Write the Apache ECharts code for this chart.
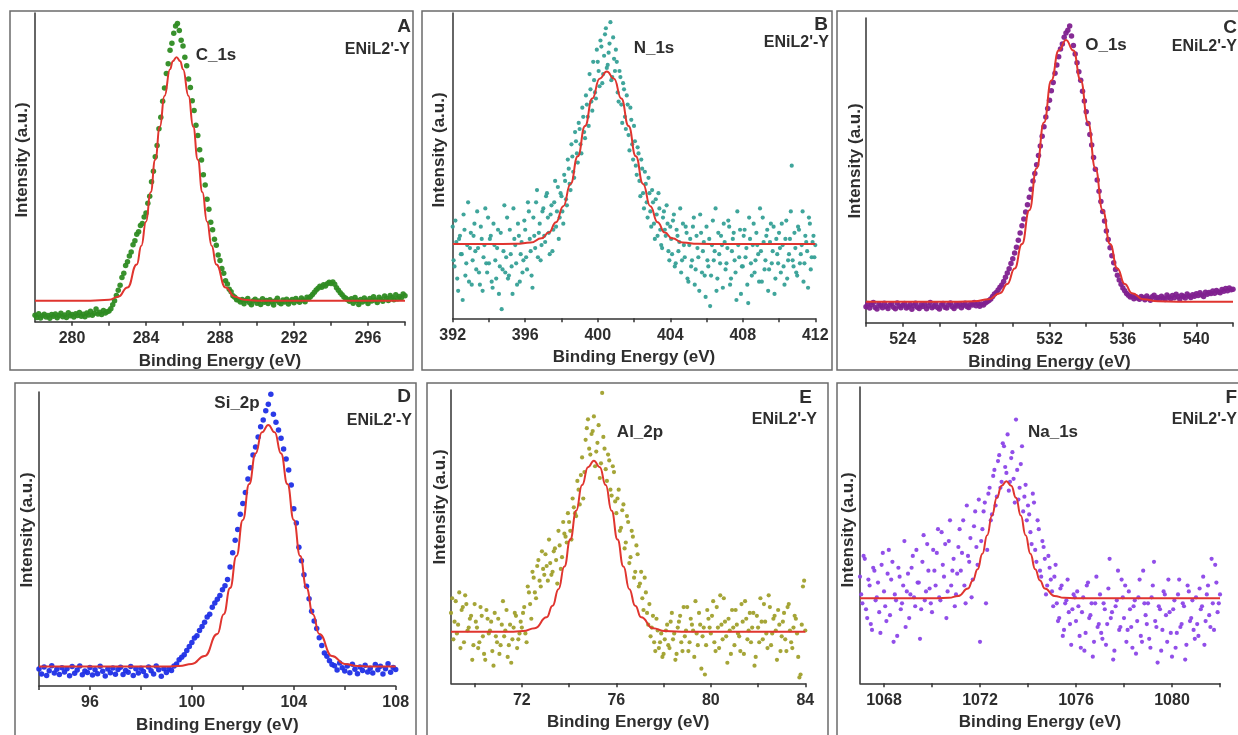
<!DOCTYPE html>
<html>
<head>
<meta charset="utf-8">
<script src="https://cdn.jsdelivr.net/npm/echarts@6/dist/echarts.min.js"></script>
<style>
html, body { margin: 0; padding: 0; background: #fff; }
#chart { width: 1238px; height: 735px; }
</style>
</head>
<body>
<div id="chart"></div>
<script>
// every scan is sampled on a 0.1 eV grid, starting at the first energy below;
// the noisy scans have a second pass offset by half a step
var scanStep = 0.1;
var passOffset = 0.05;

var c1sStart = 278;
var c1sY = [
    2.1, 1.4, 2.6, 1.2, 1.9, 2.4, 1.5, 2.0, 1.1, 2.3,
    1.8, 2.5, 1.3, 2.0, 2.7, 1.6, 2.2, 1.4, 2.9, 1.9,
    2.3, 1.5, 2.6, 2.0, 3.0, 1.8, 2.4, 1.6, 2.8, 2.2,
    3.4, 2.1, 2.7, 4.1, 2.5, 3.1, 2.3, 3.6, 2.8, 3.2,
    3.5, 4.2, 5.5, 6.8, 8.5, 10.2, 11.8, 14.3, 15.7, 18.2,
    19.4, 21.3, 22.6, 24.9, 26.2, 28.3, 29.1, 31.2, 31.8, 33.9,
    35.2, 38.4, 40.6, 45.3, 48.7, 53.4, 57.1, 62.5, 66.2, 71.4,
    75.7, 80.4, 83.6, 87.9, 90.2, 93.4, 95.8, 96.6, 94.3, 91.2,
    89.3, 85.7, 82.9, 78.6, 75.9, 71.6, 68.4, 63.6, 60.3, 55.7,
    52.4, 47.6, 44.3, 39.7, 36.4, 32.2, 29.8, 26.7, 24.8, 21.6,
    19.8, 17.2, 15.7, 13.3, 12.2, 10.5, 9.7, 8.4, 7.9, 7.1,
    7.0, 6.4, 7.2, 5.8, 6.9, 7.5, 6.1, 5.5, 6.8, 7.3,
    6.0, 6.7, 5.6, 7.4, 6.3, 6.9, 5.9, 7.1, 6.5, 5.4,
    6.8, 7.6, 6.2, 5.8, 7.0, 6.4, 7.3, 5.7, 6.6, 7.2,
    6.1, 7.5, 6.8, 6.3, 7.7, 7.0, 6.5, 7.9, 7.4, 8.2,
    8.8, 9.5, 10.3, 10.8, 11.5, 11.2, 12.0, 11.6, 12.3, 12.8,
    12.4, 12.9, 12.1, 11.0, 10.2, 9.4, 8.7, 8.0, 7.6, 7.1,
    6.6, 7.4, 6.0, 7.8, 6.9, 5.6, 7.2, 6.4, 7.7, 6.8,
    5.9, 7.5, 6.7, 8.1, 7.0, 6.2, 7.9, 7.3, 6.6, 8.3,
    7.6, 6.9, 8.5, 7.8, 7.1, 8.7, 7.4, 8.2, 7.7, 9.0,
    8.4
];
var c1sFit = [
    [278, 6.8], [280, 6.8], [281, 6.8], [282, 7.1], [282.5, 8.1], [283, 11.1], [283.5, 18.5],
    [283.75, 24.6], [284, 32.4], [284.25, 41.9], [284.5, 52.5], [284.75, 63.2], [285, 73.1],
    [285.3, 81.8], [285.45, 84.4], [285.65, 85.7], [285.85, 84.4], [286, 81.8], [286.3, 73.1],
    [286.55, 63.2], [286.8, 52.5], [287.05, 41.9], [287.3, 32.4], [287.55, 24.6], [287.8, 18.5],
    [288.3, 11.1], [288.8, 8.1], [289.3, 7.1], [290, 6.8], [292, 6.8], [295, 6.8], [298, 6.8]
];
var c1sLabels = [280, 284, 288, 292, 296];
var c1sTicks = [280, 282, 284, 286, 288, 290, 292, 294, 296, 298];

var n1sStart = 392;
var n1sY = [
    30, 17, 25, 9, 27, 21, 34, 14, 24, 12,
    28, 19, 31, 16, 23, 11, 26, 20, 36, 15,
    18, 27, 10, 24, 13, 29, 17, 3, 22, 15,
    33, 14, 21, 8, 26, 18, 31, 12, 25, 19,
    29, 16, 35, 22, 10, 27, 38, 20, 31, 24,
    36, 25, 41, 28, 34, 22, 38, 30, 43, 33,
    40, 31, 45, 37, 49, 42, 53, 46, 58, 51,
    62, 54, 66, 59, 70, 63, 75, 68, 78, 72,
    84, 76, 89, 80, 93, 82, 87, 97, 79, 85,
    88, 74, 81, 70, 77, 66, 73, 60, 69, 57,
    63, 50, 56, 45, 52, 41, 48, 38, 46, 35,
    42, 31, 39, 27, 36, 24, 33, 29, 37, 22,
    30, 21, 34, 18, 27, 25, 15, 31, 20, 28,
    12, 26, 19, 33, 16, 23, 9, 28, 22, 14,
    30, 17, 4, 24, 19, 36, 13, 21, 27, 10,
    25, 18, 32, 11, 22, 28, 15, 35, 20, 8,
    17, 29, 23, 5, 26, 14, 31, 19, 24, 12,
    22, 33, 16, 27, 9, 25, 18, 30, 13, 21,
    28, 15, 24, 11, 32, 19, 26, 50, 17, 23,
    14, 29, 21, 35, 18, 25, 10, 31, 20, 27,
    24
];
var n1sY2 = [
    19, 32, 13, 26, 21, 6, 29, 18, 38, 23,
    11, 27, 22, 35, 15, 30, 9, 24, 18, 33,
    26, 12, 31, 19, 23, 8, 28, 16, 37, 20,
    13, 29, 17, 36, 24, 11, 27, 21, 15, 32,
    20, 38, 26, 14, 33, 23, 42, 28, 19, 35,
    27, 40, 33, 21, 37, 29, 45, 35, 26, 41,
    35, 47, 39, 52, 44, 57, 48, 61, 54, 64,
    57, 69, 61, 73, 66, 80, 71, 84, 74, 88,
    81, 91, 77, 86, 95, 83, 90, 78, 92, 81,
    84, 71, 79, 64, 75, 62, 70, 55, 65, 52,
    58, 47, 54, 40, 49, 36, 44, 33, 41, 30,
    38, 26, 34, 41, 29, 23, 35, 27, 31, 19,
    26, 32, 17, 29, 22, 36, 19, 24, 30, 13,
    24, 17, 30, 11, 27, 20, 34, 15, 25, 7,
    19, 26, 14, 32, 22, 9, 28, 18, 24, 31,
    16, 23, 30, 13, 26, 19, 6, 24, 29, 17,
    27, 20, 11, 33, 18, 24, 15, 28, 21, 36,
    12, 25, 19, 29, 16, 31, 22, 8, 26, 18,
    23, 31, 17, 26, 13, 21, 35, 19, 28, 15,
    30, 18, 24, 12, 27, 22, 33, 16, 25, 20
];
var n1sFit = [
    [392, 24.3], [394, 24.3], [395.5, 24.4], [396.3, 24.8], [396.9, 26.2], [397.3, 28.1],
    [397.7, 31.5], [398.1, 36.7], [398.5, 44.0], [398.9, 53.1], [399.3, 63.0], [399.7, 72.0],
    [400.1, 78.5], [400.5, 80.8], [400.9, 78.5], [401.3, 72.0], [401.7, 63.0], [402.1, 53.1],
    [402.5, 44.0], [402.9, 36.7], [403.3, 31.5], [403.7, 28.1], [404.1, 26.2], [404.7, 24.8],
    [405.5, 24.4], [407, 24.3], [409, 24.3], [412, 24.3]
];
var n1sLabels = [392, 396, 400, 404, 408, 412];
var n1sTicks = [392, 394, 396, 398, 400, 402, 404, 406, 408, 410, 412];

var o1sStart = 522;
var o1sY = [
    5.2, 6.3, 4.8, 5.9, 6.6, 5.0, 4.5, 6.1, 5.6, 4.9,
    6.4, 5.3, 4.7, 5.8, 6.2, 5.1, 4.6, 6.5, 5.5, 4.9,
    5.7, 6.3, 4.8, 5.2, 6.0, 4.4, 5.6, 6.4, 5.1, 4.7,
    5.9, 5.3, 6.1, 4.6, 5.5, 6.6, 4.9, 5.4, 6.2, 5.0,
    4.5, 5.8, 6.3, 5.1, 4.8, 5.9, 6.5, 5.2, 4.7, 6.0,
    5.5, 6.2, 4.9, 5.7, 6.4, 5.3, 5.0, 6.1, 5.8, 6.6,
    5.6, 6.3, 5.4, 6.1, 5.8, 6.5, 6.9, 7.3, 7.8, 8.6,
    9.4, 9.9, 10.7, 11.6, 12.4, 13.5, 14.9, 16.3, 17.7, 19.4,
    21.0, 22.9, 24.8, 27.1, 29.4, 31.8, 34.0, 36.3, 38.7, 41.2,
    43.8, 46.5, 49.0, 51.8, 54.9, 58.0, 61.2, 64.3, 67.5, 70.3,
    73.0, 76.1, 78.8, 81.9, 84.6, 87.3, 89.8, 91.5, 93.7, 95.1,
    96.0, 97.4, 94.1, 91.0, 88.2, 85.3, 82.4, 79.6, 76.0, 72.8,
    69.2, 65.4, 61.8, 58.3, 54.2, 50.4, 46.8, 43.1, 39.8, 36.5,
    33.4, 30.1, 27.3, 24.6, 22.0, 19.7, 17.5, 15.6, 14.0, 12.6,
    11.4, 10.5, 9.6, 9.0, 8.4, 8.8, 7.9, 8.5, 8.1, 7.7,
    8.6, 8.2, 7.5, 8.8, 8.0, 7.4, 8.5, 9.0, 7.9, 8.3,
    7.8, 8.7, 8.1, 7.6, 9.1, 8.4, 7.9, 8.9, 8.2, 9.3,
    8.5, 7.8, 9.0, 8.6, 8.1, 9.4, 8.8, 8.3, 9.2, 8.7,
    9.5, 8.9, 9.8, 9.1, 8.6, 10.0, 9.3, 9.9, 9.6, 10.4,
    9.7, 10.6, 10.1, 9.8, 10.9, 10.3, 11.2, 10.5, 11.4, 10.8,
    11.0
];
var o1sFit = [
    [522, 6.9], [525, 6.9], [527, 6.9], [527.9, 7.0], [528.7, 7.7], [529.3, 9.7], [529.7, 12.7],
    [530.1, 17.8], [530.5, 25.8], [530.9, 36.9], [531.3, 50.7], [531.7, 65.7], [532.1, 79.5],
    [532.5, 89.3], [532.9, 92.8], [533.3, 89.3], [533.7, 79.5], [534.1, 65.7], [534.5, 50.7],
    [534.9, 36.9], [535.3, 25.8], [535.7, 17.8], [536.1, 12.7], [536.5, 9.7], [537.1, 7.7],
    [537.9, 7.0], [539, 6.9], [542, 6.9]
];
var o1sLabels = [524, 528, 532, 536, 540];
var o1sTicks = [522, 524, 526, 528, 530, 532, 534, 536, 538, 540, 542];

var si2pStart = 94;
var si2pY = [
    5.8, 4.1, 6.5, 3.6, 5.2, 6.9, 4.4, 5.7, 3.9, 6.2,
    4.8, 5.9, 3.5, 6.6, 4.3, 5.4, 6.8, 3.8, 5.1, 4.6,
    6.3, 3.7, 5.5, 4.2, 6.7, 5.0, 3.4, 5.8, 4.5, 6.1,
    4.0, 5.6, 6.4, 3.9, 5.3, 4.7, 6.6, 3.6, 5.9, 4.4,
    6.0, 4.9, 3.5, 6.5, 5.2, 4.1, 6.8, 5.5, 3.3, 5.9,
    4.6, 5.9, 5.3, 6.8, 7.5, 8.9, 9.8, 10.6, 12.1, 13.4,
    14.8, 16.3, 17.1, 18.9, 20.2, 21.7, 23.5, 24.4, 26.8, 28.2,
    29.5, 30.8, 32.7, 34.1, 36.2, 40.5, 45.3, 49.6, 53.2, 58.4,
    62.1, 65.8, 70.4, 74.2, 78.6, 81.3, 84.7, 88.2, 90.5, 93.6,
    95.8, 99.2, 92.4, 89.7, 87.1, 84.3, 80.6, 77.2, 73.5, 68.4,
    60.3, 55.4, 47.2, 42.6, 37.8, 33.9, 29.7, 25.4, 22.1, 19.6,
    16.4, 13.8, 11.2, 10.1, 8.6, 7.3, 6.9, 5.4, 7.8, 6.2,
    5.1, 6.8, 4.5, 7.4, 5.7, 4.2, 6.5, 5.3, 7.1, 4.8,
    6.0, 4.4, 7.3, 5.5, 6.7, 4.1, 5.9, 7.6, 4.7, 6.3,
    5.6
];
var si2pFit = [
    [94, 6.6], [96, 6.6], [98, 6.6], [99, 6.6], [99.5, 6.8], [100, 7.5], [100.5, 10.2],
    [101, 17.7], [101.25, 24.4], [101.5, 33.3], [101.75, 44.2], [102, 56.5], [102.25, 68.7],
    [102.5, 79.1], [102.75, 86.3], [103, 88.8], [103.25, 86.3], [103.5, 79.1], [103.75, 68.7],
    [104, 56.5], [104.25, 44.2], [104.5, 33.3], [104.75, 24.4], [105, 17.7], [105.5, 10.2],
    [106, 7.5], [106.5, 6.8], [107, 6.6], [108, 6.6]
];
var si2pLabels = [96, 100, 104, 108];
var si2pTicks = [94, 96, 98, 100, 102, 104, 106, 108];

var al2pStart = 69;
var al2pY = [
    24, 15, 28, 20, 12, 26, 30, 18, 22, 8,
    27, 19, 14, 23, 10, 25, 17, 21, 6, 16,
    22, 13, 28, 18, 9, 20, 15, 24, 12, 17,
    19, 26, 14, 31, 22, 36, 29, 42, 33, 39,
    44, 35, 41, 38, 46, 34, 47, 43, 51, 48,
    55, 49, 60, 57, 66, 71, 63, 83, 90, 78,
    86, 74, 82, 70, 99, 80, 69, 76, 64, 72,
    58, 66, 53, 61, 48, 55, 43, 50, 38, 44,
    34, 29, 36, 24, 27, 19, 14, 22, 12, 17,
    10, 18, 13, 21, 15, 8, 19, 23, 11, 16,
    26, 14, 20, 9, 17, 24, 5, 19, 13, 22,
    17, 28, 11, 19, 30, 15, 21, 7, 18, 25,
    13, 20, 16, 27, 10, 22, 18, 14, 24, 9,
    19, 29, 15, 21, 12, 26, 17, 23, 8, 20,
    16, 24, 11, 27, 14, 19, 22, 9, 3, 33,
    18
];
var al2pY2 = [
    29, 21, 17, 31, 25, 14, 27, 19, 23, 13,
    21, 12, 26, 16, 8, 22, 18, 11, 24, 14,
    10, 20, 16, 25, 13, 7, 19, 23, 15, 21,
    24, 17, 33, 27, 38, 31, 40, 35, 45, 37,
    40, 49, 37, 45, 42, 52, 39, 55, 50, 58,
    52, 63, 58, 69, 61, 77, 72, 87, 80, 85,
    91, 79, 88, 75, 84, 73, 78, 66, 74, 62,
    63, 52, 59, 46, 57, 41, 52, 36, 47, 33,
    38, 25, 31, 20, 16, 23, 11, 18, 14, 9,
    15, 20, 12, 24, 17, 10, 21, 14, 26, 18,
    11, 22, 18, 28, 13, 20, 16, 3, 25, 19,
    23, 14, 26, 12, 20, 29, 16, 22, 10, 19,
    25, 17, 11, 21, 28, 15, 24, 19, 6, 23,
    14, 21, 27, 17, 30, 13, 22, 18, 25, 11,
    21, 15, 26, 18, 12, 23, 17, 2, 20, 35
];
var al2pFit = [
    [69, 17.6], [70.5, 17.6], [71.5, 17.6], [72.05, 17.8], [72.55, 18.8], [73.05, 22.5],
    [73.3, 26.4], [73.55, 32.1], [73.8, 39.8], [74.05, 49.0], [74.3, 58.8], [74.55, 67.6],
    [74.8, 73.7], [75.05, 75.9], [75.3, 73.7], [75.55, 67.6], [75.8, 58.8], [76.05, 49.0],
    [76.3, 39.8], [76.55, 32.1], [76.8, 26.4], [77.05, 22.5], [77.55, 18.8], [78.05, 17.8],
    [79, 17.6], [81, 17.6], [84, 17.6]
];
var al2pLabels = [72, 76, 80, 84];
var al2pTicks = [70, 72, 74, 76, 78, 80, 82, 84];

var na1sStart = 1067;
var na1sY = [
    36, 27, 42, 22, 33, 18, 38, 29, 24, 40,
    31, 21, 45, 35, 14, 28, 39, 25, 33, 19,
    37, 30, 43, 26, 34, 15, 41, 28, 47, 32,
    24, 38, 44, 29, 51, 36, 22, 48, 33, 42,
    30, 46, 38, 55, 27, 43, 49, 35, 58, 40,
    14, 52, 61, 45, 66, 57, 72, 63, 77, 68,
    80, 71, 65, 76, 69, 89, 62, 74, 58, 67,
    60, 51, 64, 45, 55, 38, 48, 42, 33, 39,
    31, 36, 27, 22, 33, 18, 28, 24, 13, 30,
    21, 26, 12, 29, 17, 34, 23, 9, 27, 19,
    30, 15, 25, 20, 42, 24, 11, 28, 18, 35,
    22, 14, 31, 19, 26, 10, 29, 16, 38, 23,
    27, 12, 33, 21, 7, 25, 18, 30, 14, 24,
    9, 28, 17, 35, 20, 26, 13, 31, 22, 18,
    29, 16, 25, 36, 21, 33, 19, 27, 40, 24,
    30
];
var na1sY2 = [
    30, 43, 25, 35, 20, 39, 28, 34, 17, 44,
    26, 37, 23, 41, 30, 16, 36, 27, 48, 31,
    22, 39, 29, 45, 34, 25, 50, 31, 38, 27,
    45, 33, 52, 28, 40, 47, 31, 55, 38, 26,
    37, 52, 44, 33, 60, 41, 29, 53, 46, 62,
    48, 58, 27, 64, 55, 70, 60, 75, 66, 81,
    73, 84, 68, 78, 61, 72, 66, 80, 63, 55,
    57, 47, 61, 41, 52, 36, 46, 30, 43, 35,
    26, 40, 21, 32, 16, 27, 35, 20, 25, 29,
    31, 16, 24, 11, 33, 22, 27, 14, 36, 20,
    17, 27, 13, 32, 22, 8, 26, 38, 19, 29,
    33, 18, 25, 12, 28, 21, 35, 14, 27, 20,
    15, 29, 41, 19, 26, 11, 31, 23, 35, 17,
    25, 12, 30, 19, 27, 8, 33, 21, 28, 15,
    20, 32, 26, 13, 30, 23, 42, 18, 34, 27
];
var na1sFit = [
    [1067, 28.7], [1069, 28.7], [1070.2, 28.7], [1070.7, 28.85], [1071.1, 29.5], [1071.5, 32.0],
    [1071.7, 34.7], [1071.9, 38.5], [1072.1, 43.7], [1072.3, 50.0], [1072.5, 56.6], [1072.7, 62.6],
    [1072.9, 66.7], [1073.1, 68.2], [1073.3, 66.7], [1073.5, 62.6], [1073.7, 56.6], [1073.9, 50.0],
    [1074.1, 43.7], [1074.3, 38.5], [1074.5, 34.7], [1074.7, 32.0], [1075.1, 29.5], [1075.5, 28.85],
    [1076, 28.7], [1078, 28.7], [1082, 28.7]
];
var na1sLabels = [1068, 1072, 1076, 1080];
var na1sTicks = [1068, 1070, 1072, 1074, 1076, 1078, 1080, 1082];

var sampleName = "ENiL2'-Y";

var fontFamily = '"Liberation Sans", Arial, sans-serif';
var textColor = '#2e2e2e';
var fitColor = '#e0352f';

var panels = [
    { tag: 'A', name: 'C_1s', start: c1sStart, ys: [c1sY], fit: c1sFit, min: 278, max: 298,
      labels: c1sLabels, ticks: c1sTicks, color: '#2e8b22', dot: 5.5,
      grid: { left: 35, top: 13, width: 370, height: 308.7 }, frame: [10, 11, 403, 359],
      tagAt: [411, 27], sampleAt: [410, 50], nameAt: [216, 55], yNameAt: [22, 160] },
    { tag: 'B', name: 'N_1s', start: n1sStart, ys: [n1sY, n1sY2], fit: n1sFit, min: 392, max: 412,
      labels: n1sLabels, ticks: n1sTicks, color: '#35a096', dot: 4.2,
      grid: { left: 452.7, top: 13, width: 362.6, height: 305.3 }, frame: [422, 11, 410, 359],
      tagAt: [828, 25], sampleAt: [829, 43], nameAt: [654, 48], yNameAt: [439, 150] },
    { tag: 'C', name: 'O_1s', start: o1sStart, ys: [o1sY], fit: o1sFit, min: 522, max: 542,
      labels: o1sLabels, ticks: o1sTicks, color: '#80208f', dot: 5.5,
      grid: { left: 866, top: 18, width: 367, height: 304.7 }, frame: [837, 11, 410, 359],
      tagAt: [1237, 28], sampleAt: [1237, 47], nameAt: [1106, 45], yNameAt: [855, 161] },
    { tag: 'D', name: 'Si_2p', start: si2pStart, ys: [si2pY], fit: si2pFit, min: 94, max: 108,
      labels: si2pLabels, ticks: si2pTicks, color: '#1f2fe6', dot: 5.5,
      grid: { left: 39, top: 392, width: 356.7, height: 294 }, frame: [15, 383, 401, 360],
      tagAt: [411, 397], sampleAt: [412, 421], nameAt: [237, 403], yNameAt: [27, 530] },
    { tag: 'E', name: 'Al_2p', start: al2pStart, ys: [al2pY, al2pY2], fit: al2pFit, min: 69, max: 84,
      labels: al2pLabels, ticks: al2pTicks, color: '#a0a02c', dot: 4.2,
      grid: { left: 451, top: 390, width: 354.3, height: 293.3 }, frame: [427, 383, 401, 360],
      tagAt: [812, 398], sampleAt: [817, 420], nameAt: [640, 432], yNameAt: [440, 507] },
    { tag: 'F', name: 'Na_1s', start: na1sStart, ys: [na1sY, na1sY2], fit: na1sFit, min: 1067, max: 1082,
      labels: na1sLabels, ticks: na1sTicks, color: '#8b45e8', dot: 4.2,
      grid: { left: 860, top: 387, width: 360, height: 296.3 }, frame: [837, 383, 410, 360],
      tagAt: [1237, 398], sampleAt: [1237, 420], nameAt: [1053, 432], yNameAt: [848, 530] }
];

function scan(start, passes) {
    var out = [];
    passes.forEach(function (ys, pass) {
        var s = start + pass * passOffset;
        ys.forEach(function (v, k) {
            out.push([Math.round((s + k * scanStep) * 100) / 100, v]);
        });
    });
    return out;
}

function label(text, at, size, align, rotate) {
    return {
        type: 'text',
        x: at[0],
        y: at[1],
        rotation: rotate ? Math.PI / 2 : 0,
        z: 10,
        style: {
            text: text,
            font: 'bold ' + size + 'px ' + fontFamily,
            fill: textColor,
            align: align, textAlign: align,
            verticalAlign: 'middle', textVerticalAlign: 'middle'
        }
    };
}

var grids = [], xAxes = [], yAxes = [], series = [], graphics = [];

panels.forEach(function (p, i) {
    grids.push(p.grid);
    xAxes.push({
        gridIndex: i,
        type: 'value',
        min: p.min,
        max: p.max,
        axisLine: { onZero: false, lineStyle: { color: '#333', width: 1.5 } },
        axisTick: { customValues: p.ticks, length: 4, lineStyle: { color: '#333', width: 1.5 } },
        axisLabel: {
            customValues: p.labels, margin: 9, color: textColor,
            fontSize: 16, fontWeight: 'bold', fontFamily: fontFamily,
            formatter: function (v) { return String(v); }
        },
        splitLine: { show: false },
        name: 'Binding Energy (eV)',
        nameLocation: 'middle',
        nameGap: 31,
        nameTextStyle: { color: textColor, fontSize: 17, fontWeight: 'bold', fontFamily: fontFamily }
    });
    yAxes.push({
        gridIndex: i,
        type: 'value',
        min: 0,
        max: 100,
        axisLine: { show: true, onZero: false, lineStyle: { color: '#333', width: 1.5 } },
        axisTick: { show: false },
        axisLabel: { show: false },
        splitLine: { show: false }
    });
    series.push({
        type: 'scatter',
        xAxisIndex: i,
        yAxisIndex: i,
        symbolSize: p.dot,
        itemStyle: { color: p.color, opacity: 0.95 },
        data: scan(p.start, p.ys),
        z: 2
    });
    series.push({
        type: 'line',
        xAxisIndex: i,
        yAxisIndex: i,
        showSymbol: false,
        smooth: true,
        smoothMonotone: 'x',
        lineStyle: { color: fitColor, width: 2 },
        data: p.fit,
        z: 3
    });
    graphics.push({
        type: 'rect',
        shape: { x: p.frame[0], y: p.frame[1], width: p.frame[2], height: p.frame[3] },
        style: { fill: 'none', stroke: '#6b6b6b', lineWidth: 1.5 },
        z: 0
    });
    graphics.push(label(p.tag, p.tagAt, 19, 'right'));
    graphics.push(label(sampleName, p.sampleAt, 16, 'right'));
    graphics.push(label(p.name, p.nameAt, 17, 'center'));
    graphics.push(label('Intensity (a.u.)', p.yNameAt, 17, 'center', true));
});

var chart = echarts.init(document.getElementById('chart'));
chart.setOption({
    animation: false,
    backgroundColor: '#fff',
    grid: grids,
    xAxis: xAxes,
    yAxis: yAxes,
    series: series,
    graphic: { elements: graphics }
});
</script>
</body>
</html>
